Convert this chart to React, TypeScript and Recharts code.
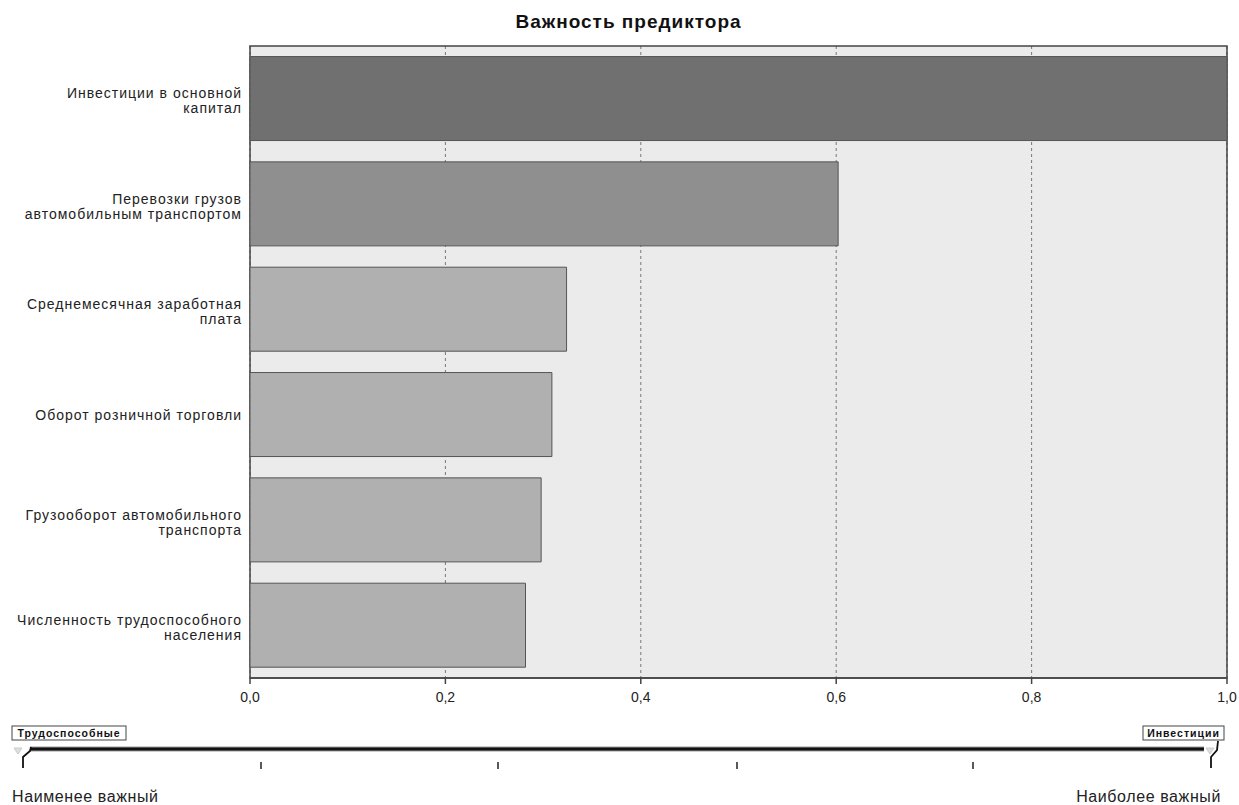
import React from "react";
import {
  BarChart,
  Bar,
  XAxis,
  YAxis,
  CartesianGrid,
  Cell,
  ReferenceArea,
} from "recharts";

const categories = [
  "Инвестиции в основной\nкапитал",
  "Перевозки грузов\nавтомобильным транспортом",
  "Среднемесячная заработная\nплата",
  "Оборот розничной торговли",
  "Грузооборот автомобильного\nтранспорта",
  "Численность трудоспособного\nнаселения",
];
const importance = [1.0, 0.602, 0.324, 0.309, 0.298, 0.282];
const barColors = ["#707070", "#8f8f8f", "#b0b0b0", "#b0b0b0", "#b0b0b0", "#b0b0b0"];
const xTicks = [0, 0.2, 0.4, 0.6, 0.8, 1.0];
const sliderLabels = ["Трудоспособные", "Инвестиции"];
const sliderEnds = ["Наименее важный", "Наиболее важный"];
const title = "Важность предиктора";

const data = categories.map((c, i) => ({ name: c, value: importance[i] }));

const FONT = "'Liberation Sans', Arial, sans-serif";

const YTick = (props: any) => {
  const { x, y, payload } = props;
  const lines = String(payload.value).split("\n");
  const lh = 15;
  const start = lines.length > 1 ? -((lines.length - 1) * lh) / 2 + 2 : 0;
  return (
    <g>
      {lines.map((l: string, i: number) => (
        <text
          key={i}
          x={x}
          y={y + start + i * lh}
          dy={5}
          textAnchor="end"
          fontSize={14}
          letterSpacing={1}
          fontFamily={FONT}
          fill="#222"
        >
          {l}
        </text>
      ))}
    </g>
  );
};

const XTick = (props: any) => {
  const { x, y, payload } = props;
  return (
    <text
      x={x}
      y={y}
      dy={16}
      textAnchor="middle"
      fontSize={14}
      fontFamily={FONT}
      fill="#222"
    >
      {Number(payload.value).toFixed(1).replace(".", ",")}
    </text>
  );
};

export default function App() {
  return (
    <div
      style={{
        position: "absolute",
        left: 0,
        top: 0,
        width: 1239,
        height: 805,
        background: "#fff",
        fontFamily: FONT,
      }}
    >
      <div
        style={{
          position: "absolute",
          left: 0,
          top: 11,
          width: 1257,
          textAlign: "center",
          fontWeight: "bold",
          fontSize: 19,
          letterSpacing: 1,
          color: "#111",
        }}
      >
        {title}
      </div>
      <div style={{ position: "absolute", left: 0, top: 0 }}>
        <BarChart
          width={1239}
          height={720}
          data={data}
          layout="vertical"
          margin={{ top: 46, right: 12, left: 0, bottom: 0 }}
          barCategoryGap="10%"
        >
          <CartesianGrid
            horizontal={false}
            vertical={true}
            fill="#ebebeb"
            stroke="#777"
            strokeDasharray="3 3"
          />
          <XAxis
            type="number"
            domain={[0, 1]}
            ticks={xTicks}
            height={42}
            tick={<XTick />}
            axisLine={{ stroke: "#444", strokeWidth: 1.5 }}
            tickLine={{ stroke: "#444", strokeWidth: 1.5 }}
            tickSize={6}
          />
          <YAxis
            type="category"
            dataKey="name"
            width={250}
            tick={<YTick />}
            axisLine={false}
            tickLine={false}
            interval={0}
          />
          <Bar dataKey="value" isAnimationActive={false} stroke="#555" strokeWidth={1}>
            {data.map((d, i) => (
              <Cell key={i} fill={barColors[i]} />
            ))}
          </Bar>
          <ReferenceArea
            x1={0}
            x2={1}
            fill="none"
            stroke="#444"
            strokeWidth={1.5}
            ifOverflow="visible"
          />
        </BarChart>
      </div>
      <svg
        width={1239}
        height={100}
        style={{ position: "absolute", left: 0, top: 705 }}
      >
        <rect x={12} y={21} width={114} height={14} fill="#fff" stroke="#444" strokeWidth={1} />
        <text x={69} y={32} textAnchor="middle" fontSize={10.5} fontWeight="bold" fontFamily={FONT} fill="#111" letterSpacing={1}>
          {sliderLabels[0]}
        </text>
        <rect x={1143} y={21} width={81} height={14} fill="#fff" stroke="#444" strokeWidth={1} />
        <text x={1183.5} y={32} textAnchor="middle" fontSize={10.5} fontWeight="bold" fontFamily={FONT} fill="#111" letterSpacing={1}>
          {sliderLabels[1]}
        </text>
        <line x1={30} y1={44} x2={1204} y2={44} stroke="#999" strokeWidth={5} />
        <line x1={30} y1={44} x2={1204} y2={44} stroke="#111" strokeWidth={3} />
        <path d="M14 43 L22 43 L18 49 Z" fill="#ddd" stroke="#ccc" />
        <path d="M31 42 L30 46 L23 52 L23 63" fill="none" stroke="#111" strokeWidth={1.8} />
        <path d="M1206 43 L1214 43 L1210 49 Z" fill="#ddd" stroke="#ccc" />
        <path d="M1218 36 L1217 45 L1211 52 L1211 63" fill="none" stroke="#111" strokeWidth={1.8} />
        {[261, 498, 737, 973].map((x) => (
          <line key={x} x1={x} y1={57} x2={x} y2={64} stroke="#222" strokeWidth={1.5} />
        ))}
        <text x={12} y={97} fontSize={16} letterSpacing={0.6} fontFamily={FONT} fill="#222">
          {sliderEnds[0]}
        </text>
        <text x={1221} y={97} textAnchor="end" fontSize={16} letterSpacing={0.6} fontFamily={FONT} fill="#222">
          {sliderEnds[1]}
        </text>
      </svg>
    </div>
  );
}
